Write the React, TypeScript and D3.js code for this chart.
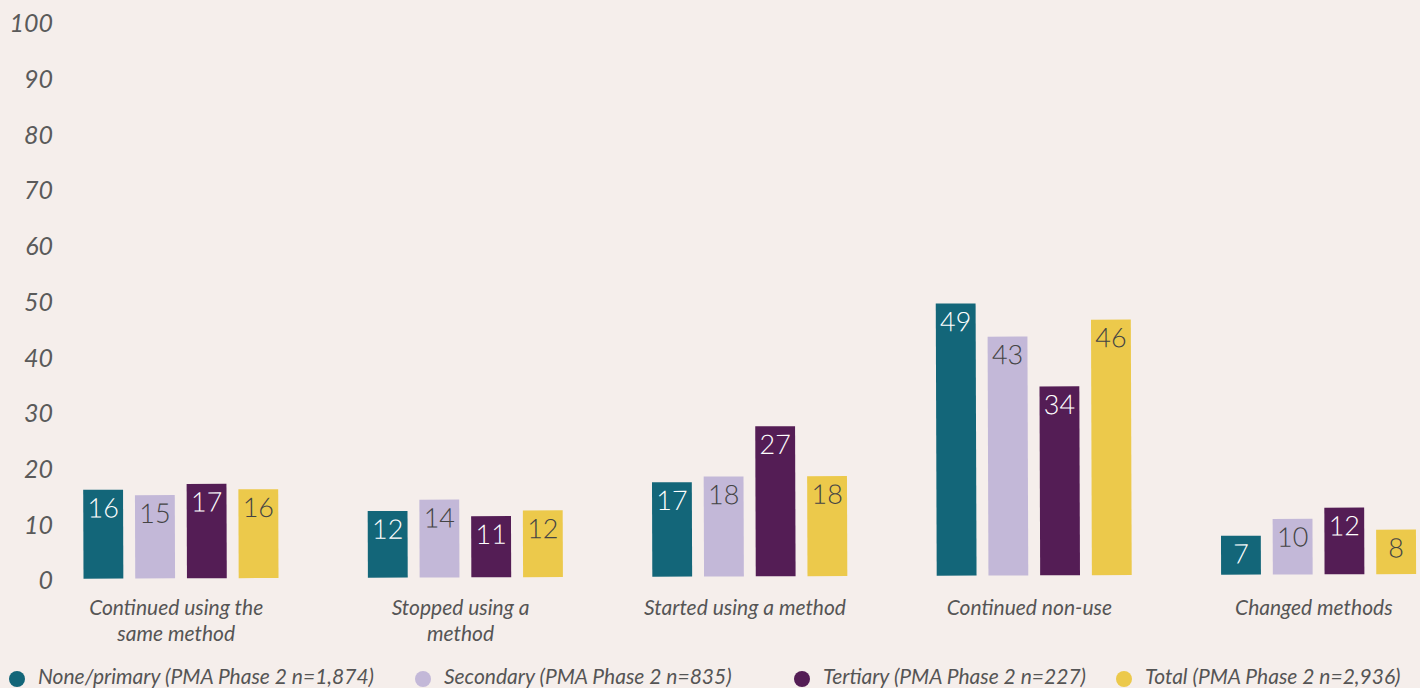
import React from "react";
import * as d3 from "d3";

const categories = [
  ["Continued using the", "same method"],
  ["Stopped using a", "method"],
  ["Started using a method"],
  ["Continued non-use"],
  ["Changed methods"],
];
const seriesNames = [
  "None/primary (PMA Phase 2 n=1,874)",
  "Secondary (PMA Phase 2 n=835)",
  "Tertiary (PMA Phase 2 n=227)",
  "Total (PMA Phase 2 n=2,936)",
];
const nonePrimary = [16, 12, 17, 49, 7];
const secondary = [15, 14, 18, 43, 10];
const tertiary = [17, 11, 27, 34, 12];
const total = [16, 12, 18, 46, 8];
const yTicks = [0, 10, 20, 30, 40, 50, 60, 70, 80, 90, 100];

const series = [nonePrimary, secondary, tertiary, total];
const colors = ["#136679", "#c3b8d8", "#541d55", "#ecc94b"];
const labelColors = ["#ffffff", "#444444", "#ffffff", "#444444"];
const legendX = [17, 423, 802, 1124];

const W = 1420;
const H = 688;

export default function App() {
  const yAxis = d3.scaleLinear().domain([0, 100]).range([579, 22]);
  const y = d3.scaleLinear().domain([0, 100]).range([576.5, 21]);
  const x0 = d3
    .scaleBand<number>()
    .domain(d3.range(categories.length))
    .range([38, 1460])
    .padding(0);
  const groupW = 195;
  const x1 = d3
    .scaleBand<number>()
    .domain(d3.range(series.length))
    .range([0, groupW])
    .paddingInner(0.23)
    .paddingOuter(0);
  const italic = "Lato, 'Open Sans', sans-serif";

  return (
    <svg
      width={W}
      height={H}
      style={{ position: "absolute", left: 0, top: 0, display: "block" }}
    >
      <rect x={0} y={0} width={W} height={H} fill="#f5eeeb" />
      {yTicks.map((t) => (
        <text
          key={t}
          x={53}
          y={yAxis(t) + 4}
          textAnchor="end"
          dominantBaseline="middle"
          fontFamily={italic}
          fontStyle="italic"
          fontSize={25}
          fill="#5a5a5a"
        >
          {t}
        </text>
      ))}
      {categories.map((cat, ci) => {
        const cx = (x0(ci) as number) + x0.bandwidth() / 2;
        const gx = cx - groupW / 2;
        return (
          <g key={ci}>
            <g transform="rotate(-0.2, 710, 344)">
              {series.map((s, si) => {
                const bx = gx + (x1(si) as number);
                const top = y(s[ci]);
                return (
                  <g key={si}>
                    <rect
                      x={bx}
                      y={top}
                      width={x1.bandwidth()}
                      height={y(0) - top}
                      fill={colors[si]}
                    />
                    <text
                      x={bx + x1.bandwidth() / 2}
                      y={top + 21}
                      textAnchor="middle"
                      dominantBaseline="middle"
                      fontFamily="Lato, 'Open Sans', sans-serif"
                      fontWeight={300}
                      fontSize={27}
                      fill={labelColors[si]}
                    >
                      {s[ci]}
                    </text>
                  </g>
                );
              })}
            </g>
            {cat.map((line, li) => (
              <text
                key={li}
                x={cx - 4}
                y={610 + li * 26}
                textAnchor="middle"
                dominantBaseline="middle"
                fontFamily={italic}
                fontStyle="italic"
                fontSize={21}
                fill="#555555"
              >
                {line}
              </text>
            ))}
          </g>
        );
      })}
      {seriesNames.map((name, i) => (
        <g key={i}>
          <circle cx={legendX[i]} cy={679} r={8} fill={colors[i]} />
          <text
            x={legendX[i] + 21}
            y={679}
            dominantBaseline="middle"
            fontFamily={italic}
            fontStyle="italic"
            fontSize={21}
            fill="#555555"
          >
            {name}
          </text>
        </g>
      ))}
    </svg>
  );
}
